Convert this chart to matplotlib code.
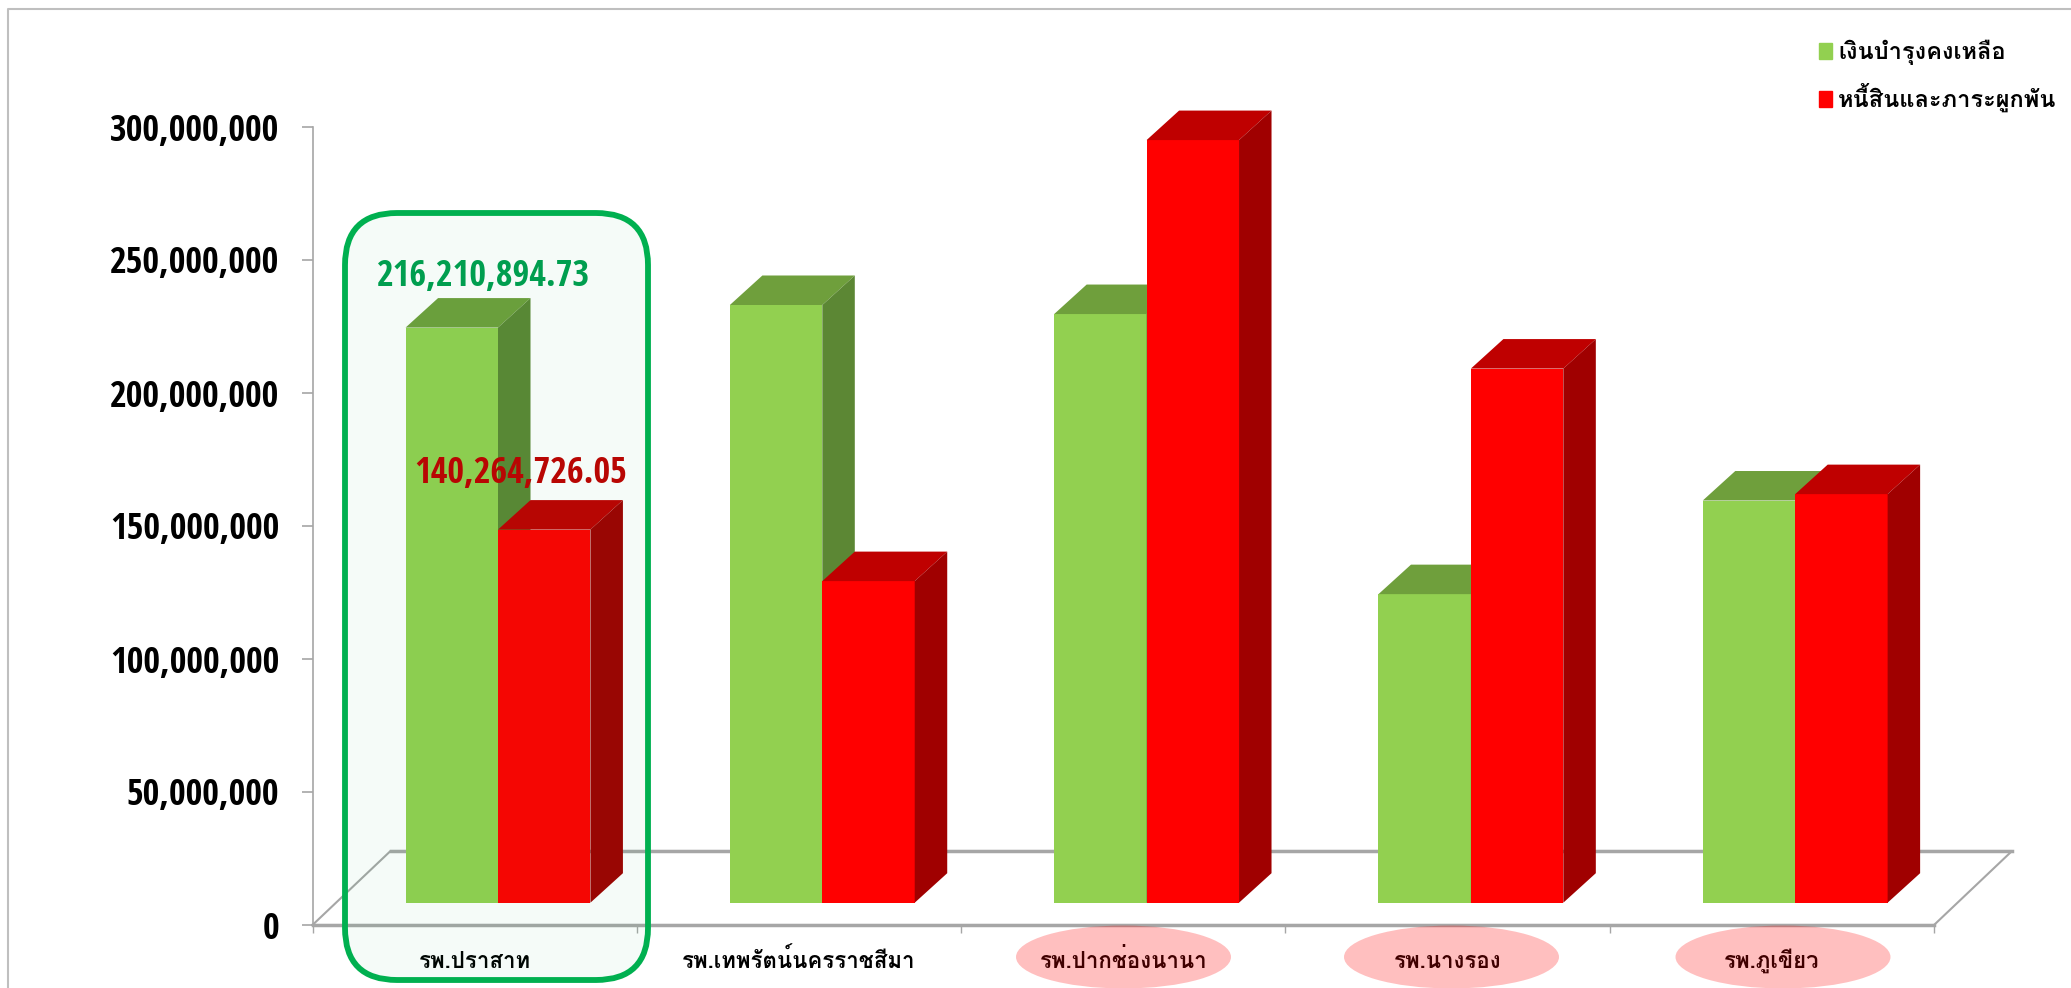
import matplotlib
matplotlib.use('Agg')
import matplotlib.pyplot as plt
from matplotlib.patches import Ellipse, FancyBboxPatch

hospitals = ['รพ.ปราสาท', 'รพ.เทพรัตน์นครราชสีมา', 'รพ.ปากช่องนานา', 'รพ.นางรอง', 'รพ.ภูเขียว']
series_names = ['เงินบำรุงคงเหลือ', 'หนี้สินและภาระผูกพัน']
balance = [216210894.73, 224700000, 221300000, 116000000, 151200000]
debt = [140264726.05, 120900000, 286700000, 200800000, 153600000]
yticks = [0, 50000000, 100000000, 150000000, 200000000, 250000000, 300000000]

NUM_FONT = ['Open Sans Condensed', 'Carlito', 'DejaVu Sans']
THAI_FONT = ['Loma', 'Noto Sans Thai', 'DejaVu Sans']
GREY = '#a6a6a6'

fig = plt.figure(figsize=(20.71, 9.88), dpi=100)
ax = fig.add_axes([312.5/2071, 1-925/988, (1934-312.5)/2071, (925-127)/988])
ax.patch.set_visible(False)
ax.set_xlim(0, 5)
ax.set_ylim(0, 300000000)

cat_px = (1934-312.5)/5
val_px = 300000000/(925-127)

# floor
floor_dx = 78/cat_px
floor_dy = 74*val_px
ax.plot([0, floor_dx, 5+floor_dx, 5, 0], [0, floor_dy, floor_dy, 0, 0], color=GREY, lw=1.5, clip_on=False, zorder=1)
ax.plot([0, 5], [0, 0], color=GREY, lw=2.5, clip_on=False, zorder=1)
ax.plot([floor_dx, 5+floor_dx], [floor_dy, floor_dy], color=GREY, lw=2.5, clip_on=False, zorder=1)


def bar3d(x, w, v, front, top, side):
    lift = 22.3*val_px
    dx = 32.5/cat_px
    dy = 29.5*val_px
    ax.bar(x, v, w, bottom=lift, align='edge', color=front, zorder=2, clip_on=False)
    t = lift+v
    ax.fill([x, x+w, x+w+dx, x+dx], [t, t, t+dy, t+dy], color=top, lw=0, zorder=2, clip_on=False)
    ax.fill([x+w, x+w+dx, x+w+dx, x+w], [lift, lift+dy, t+dy, t], color=side, lw=0, zorder=2, clip_on=False)


w = 0.285
for i in range(5):
    bar3d(i+0.287, w, balance[i], '#92d050', '#6f9f3c', '#5c8734')
    bar3d(i+0.287+w, w, debt[i], '#ff0000', '#bf0000', '#a00000')

for s in ['top', 'right', 'bottom']:
    ax.spines[s].set_visible(False)
ax.spines['left'].set_color(GREY)
ax.spines['left'].set_linewidth(1.2)
ax.set_yticks(yticks)
ax.set_yticklabels([f'{v:,}' for v in yticks], family=NUM_FONT, weight='bold', fontsize=26)
ax.tick_params(axis='y', length=8, width=1.2, color=GREY, pad=16)
ax.set_xticks(range(6))
ax.set_xticklabels([])
ax.tick_params(axis='x', which='major', length=6, width=1, color=GREY)
ax.set_xticks([i+0.5 for i in range(5)], minor=True)
ax.set_xticklabels(hospitals, minor=True, family=THAI_FONT, weight='bold', fontsize=16, va='baseline')
ax.tick_params(axis='x', which='minor', length=0, pad=31)

# value labels of first hospital
ax.text(0.528, balance[0]+27400000, f'{balance[0]:,.2f}', family=NUM_FONT, weight='bold', fontsize=26, color='#009e4f', ha='center', va='center', zorder=4)
ax.text(0.643, debt[0]+29300000, f'{debt[0]:,.2f}', family=NUM_FONT, weight='bold', fontsize=26, color='#c00000', ha='center', va='center', zorder=4)

# legend
h1 = plt.Rectangle((0, 0), 1, 1, color='#92d050')
h2 = plt.Rectangle((0, 0), 1, 1, color='#ff0000')
fig.legend([h1, h2], series_names, loc='upper left', bbox_to_anchor=(1819/2071, 1-40/988), frameon=False,
           prop={'family': THAI_FONT, 'weight': 'bold', 'size': 17}, handlelength=0.55, handleheight=0.7, handletextpad=0.25,
           labelspacing=0.75, borderpad=0, borderaxespad=0)

# shapes on top: frame, box round first hospital, ellipses
ov = fig.add_axes([0, 0, 1, 1], zorder=5)
ov.set_xlim(0, 2071)
ov.set_ylim(988, 0)
ov.axis('off')
ov.plot([8, 8, 2071], [988, 9, 9], color='#bfbfbf', lw=1.5)
ov.add_patch(FancyBboxPatch((345+52, 213+52), 303-104, 767-104, boxstyle='round,pad=52', facecolor='#00b050', edgecolor='none', alpha=0.04))
ov.add_patch(FancyBboxPatch((345+52, 213+52), 303-104, 767-104, boxstyle='round,pad=52', facecolor='none', edgecolor='#00b050', lw=4.2))
for cx in [1123.5, 1451.5, 1783]:
    ov.add_patch(Ellipse((cx, 957), 215, 63, facecolor='#ff0000', edgecolor='none', alpha=0.25))

fig.savefig('out.png', dpi=100)
